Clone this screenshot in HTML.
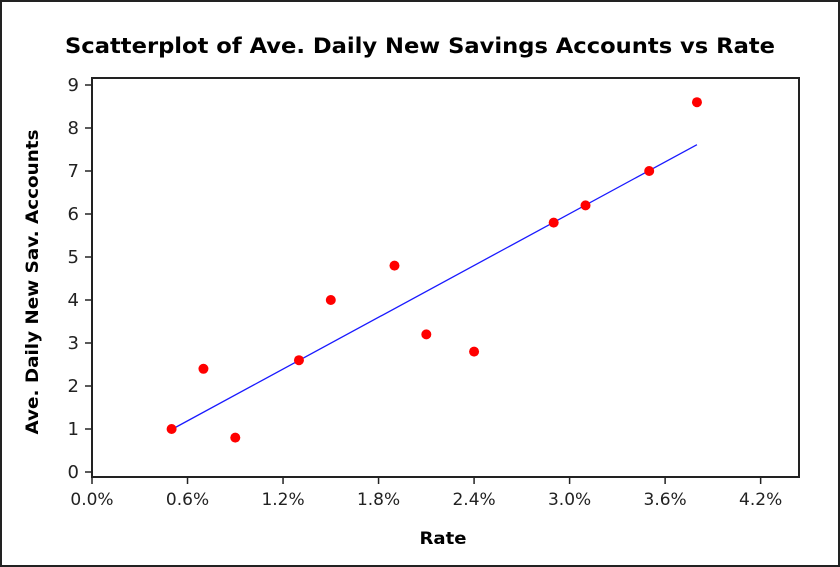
<!DOCTYPE html>
<html><head><meta charset="utf-8"><style>
html,body{margin:0;padding:0;background:#fff}
svg{display:block;font-family:"DejaVu Sans","Liberation Sans",Arial,sans-serif}
</style></head><body>
<svg id="chart" width="840" height="567" viewBox="0 0 840 567">
<rect x="1" y="1" width="838" height="565" fill="#fff" stroke="#222" stroke-width="2"/>
<text x="420" y="53" text-anchor="middle" font-size="21" font-weight="bold" fill="#000" textLength="710" lengthAdjust="spacingAndGlyphs">Scatterplot of Ave. Daily New Savings Accounts vs Rate</text>
<rect x="92" y="78" width="707" height="399" fill="none" stroke="#222" stroke-width="2"/>
<text x="443" y="544" text-anchor="middle" font-size="17" font-weight="bold" textLength="47" lengthAdjust="spacingAndGlyphs">Rate</text>
<text transform="translate(38,282) rotate(-90)" text-anchor="middle" font-size="17" font-weight="bold" textLength="305" lengthAdjust="spacingAndGlyphs">Ave. Daily New Sav. Accounts</text>
<g id="axes"></g><g id="marks"></g>
</svg>
<script>
const rates=[0.5,0.7,0.9,1.3,1.5,1.9,2.1,2.4,2.9,3.1,3.5,3.8];
const accounts=[1.0,2.4,0.8,2.6,4.0,4.8,3.2,2.8,5.8,6.2,7.0,8.6];
const xTicks=[0,0.6,1.2,1.8,2.4,3.0,3.6,4.2];
const xTickLabels=["0.0%","0.6%","1.2%","1.8%","2.4%","3.0%","3.6%","4.2%"];
const yTicks=[0,1,2,3,4,5,6,7,8,9];
const NS="http://www.w3.org/2000/svg";
function sx(v){return 92+v*159.2;}
function sy(v){return 472-v*43;}
function mk(tag,attrs,parent){const e=document.createElementNS(NS,tag);for(const k in attrs)e.setAttribute(k,attrs[k]);parent.appendChild(e);return e;}
const axes=document.getElementById('axes'),marks=document.getElementById('marks');
xTicks.forEach((t,i)=>{
 const l=mk('line',{x1:sx(t),x2:sx(t),y1:477,y2:484,stroke:'#222','stroke-width':1.5},axes);
 
 
 const tx=mk('text',{x:sx(t),y:505,'text-anchor':'middle','font-size':17,fill:'#222'},axes);
 tx.textContent=xTickLabels[i];
 
 
});
yTicks.forEach(t=>{
 const l=mk('line',{x1:85,x2:92,y1:sy(t),y2:sy(t),stroke:'#222','stroke-width':1.5},axes);
 
 
 const tx=mk('text',{x:79,y:sy(t)+6,'text-anchor':'end','font-size':18,fill:'#222'},axes);
 tx.textContent=String(t);
 
 
});
const n=rates.length,mx=rates.reduce((a,b)=>a+b)/n,my=accounts.reduce((a,b)=>a+b)/n;
let sxy=0,sxx=0;for(let i=0;i<n;i++){sxy+=(rates[i]-mx)*(accounts[i]-my);sxx+=(rates[i]-mx)**2;}
const b=sxy/sxx,a=my-b*mx,x0=Math.min(...rates),x1=Math.max(...rates);
const fl=mk('line',{x1:sx(x0),y1:sy(a+b*x0),x2:sx(x1),y2:sy(a+b*x1),stroke:'#1a1aff','stroke-width':1.3},marks);


rates.forEach((r,i)=>{
 const c=mk('circle',{cx:sx(r),cy:sy(accounts[i]),r:5,fill:'#ff0000'},marks);
 
 
});
</script>
</body></html>
